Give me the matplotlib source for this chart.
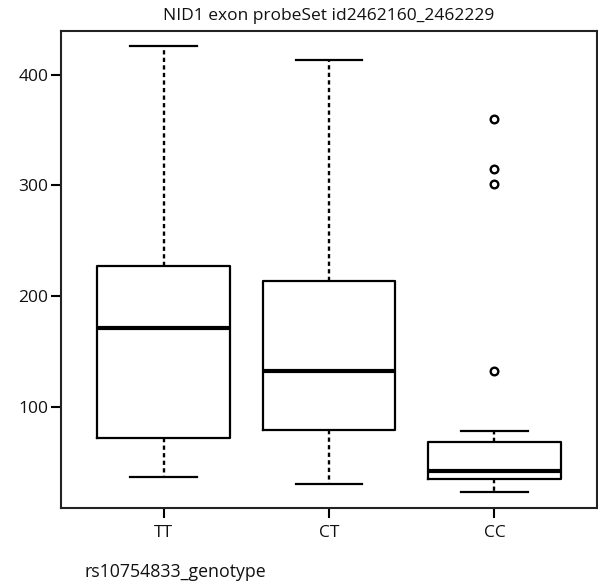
import matplotlib
matplotlib.use("Agg")
import matplotlib.pyplot as plt

plt.rcParams['font.family'] = ['Open Sans', 'DejaVu Sans']

genotypes = ["TT", "CT", "CC"]
q1 = [72, 79, 35]
medians = [171, 132, 42]
q3 = [227, 214, 68]
whisker_low = [37, 30, 23]
whisker_high = [426, 413, 78]
outliers = [[], [], [132, 301, 315, 360]]
yticks = [100, 200, 300, 400]

stats = []
for i, g in enumerate(genotypes):
    stats.append(dict(label=g, q1=q1[i], med=medians[i], q3=q3[i],
                      whislo=whisker_low[i], whishi=whisker_high[i],
                      fliers=outliers[i]))

W, H = 598, 585
fig = plt.figure(figsize=(W / 100, H / 100), dpi=100)
ax = fig.add_axes([61 / W, 1 - 508 / H, (597 - 61) / W, (508 - 30.5) / H])

ax.bxp(stats, positions=[1, 2, 3], widths=0.8,
       boxprops=dict(color="black", linewidth=1.6),
       medianprops=dict(color="black", linewidth=3.0),
       whiskerprops=dict(color="black", linewidth=1.7, linestyle=(0, (1.8, 1.4))),
       capprops=dict(color="black", linewidth=1.6),
       flierprops=dict(marker="o", markersize=5.5, markerfacecolor="white",
                       markeredgecolor="black", markeredgewidth=1.7))

ax.set_xlim(0.38, 3.62)
ax.set_ylim(8.7, 439.8)
ax.set_yticks(yticks)
ax.set_yticklabels([str(t) for t in yticks])
ax.set_xticks([1, 2, 3])
ax.set_xticklabels(genotypes)
ax.tick_params(axis="both", length=7, width=1.5, color="black", labelsize=12.5,
               pad=2, labelcolor="#111111")
ax.tick_params(axis="x", pad=5)
for s in ax.spines.values():
    s.set_linewidth(1.5)
    s.set_color("#222222")

fig.text((61 + 597) / 2 / W, 1 - 16 / H, "NID1 exon probeSet id2462160_2462229",
         ha="center", va="center", fontsize=12.5, color="#111111")
fig.text(85 / W, 1 - 572 / H, "rs10754833_genotype", ha="left", va="center",
         fontsize=12.8, color="#111111")

fig.savefig("out.png", dpi=100)
